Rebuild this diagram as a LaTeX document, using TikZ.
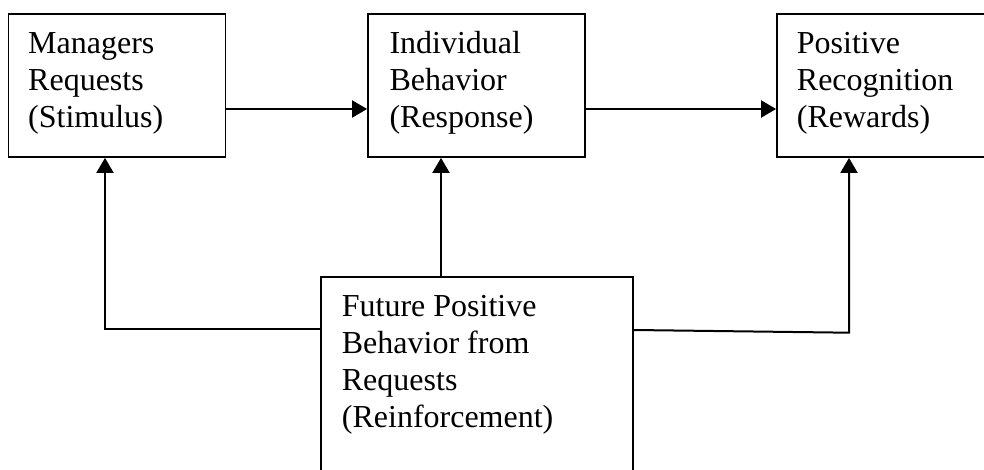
\documentclass[tikz,border=0pt]{standalone}
\usepackage{fontspec}
\setmainfont{Liberation Serif}
\usetikzlibrary{arrows.meta}
\begin{document}
\begin{tikzpicture}[x=1pt,y=-1pt,
  box/.style={draw,line width=1.8pt,inner sep=0pt,minimum width=217pt,minimum height=143pt},
  txt/.style={inner sep=0pt,align=left,anchor=base west,font=\fontsize{32}{37}\selectfont},
  arr/.style={line width=2pt,-{Triangle[length=15pt,width=17pt]}}]
\useasboundingbox (0,0) rectangle (984,470);
\clip (0,0) rectangle (984,470);
\fill[white] (0,0) rectangle (984,470);
\node[box] (m) at (117,85.5) {};
\node[box] (i) at (476.5,85.5) {};
\node[box] (r) at (885.5,85.5) {};
\node[box,minimum width=312pt,minimum height=204pt] (f) at (477,379) {};
\node[txt] (tm) at (28,128) {Managers\\Requests\\(Stimulus)};
\node[txt] (ti) at (389.3,128) {Individual\\Behavior\\(Response)};
\node[txt] (tr) at (796.7,128) {Positive\\Recognition\\(Rewards)};
\node[txt] (tf) at (341.7,427) {Future Positive\\Behavior from\\Requests\\(Reinforcement)};
\coordinate (lc) at (105,329.3);
\coordinate (rc) at (849,332.7);
\draw[arr] ([yshift=-23.5pt]m.east) -- ([yshift=-23.5pt]i.west);
\draw[arr] ([yshift=-23.5pt]i.east) -- ([yshift=-23.5pt]r.west);
\draw[arr] ([xshift=-36pt]f.north) -- ([xshift=-36pt]f.north |- i.south);
\draw[arr] ([yshift=49.7pt]f.west) -- (lc) -- (lc |- m.south);
\draw[arr] ([yshift=49pt]f.east) -- (rc) -- (rc |- r.south);
\end{tikzpicture}
\end{document}
